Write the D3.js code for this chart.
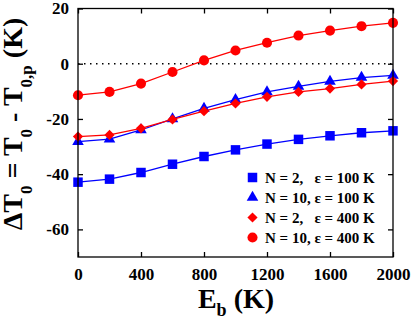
<!DOCTYPE html>
<html><head><meta charset="utf-8">
<script src="https://cdn.jsdelivr.net/npm/d3@7"></script>
</head><body style="margin:0;background:#fff"><svg id="c" width="415" height="322"></svg>
<script>
const eb = [0,200,400,600,800,1000,1200,1400,1600,1800,2000];
const sqN2e100 = [-42.9,-41.8,-39.4,-36.4,-33.6,-31.2,-29.1,-27.4,-26.1,-25.0,-24.3];
const triN10e100 = [-28.2,-27.3,-24.0,-20.0,-16.2,-13.0,-10.2,-8.2,-6.4,-5.0,-4.2];
const diaN2e400 = [-26.4,-25.8,-23.4,-20.2,-17.2,-14.4,-12.0,-10.2,-9.0,-7.5,-6.3];
const cirN10e400 = [-11.4,-10.2,-7.2,-3.0,1.2,4.8,7.6,10.2,12.0,13.6,14.8];
const xTicks = [0,400,800,1200,1600,2000];
const yTicks = [-60,-40,-20,0,20];
const legendLabels = ["N = 2,\u00a0\u00a0\u00a0\u03b5 = 100 K","N = 10, \u03b5 = 100 K","N = 2,\u00a0\u00a0\u00a0\u03b5 = 400 K","N = 10, \u03b5 = 400 K"];

const series = [
  {vals: sqN2e100, color:"#0000ff", sym:d3.symbolSquare, size:90, rot:0},
  {vals: triN10e100, color:"#0000ff", sym:d3.symbolTriangle, size:58, rot:0},
  {vals: diaN2e400, color:"#ff0000", sym:d3.symbolSquare, size:52, rot:45},
  {vals: cirN10e400, color:"#ff0000", sym:d3.symbolCircle, size:80, rot:0}
];

const FONT="Liberation Serif";
const L=78,R=393,T=8.5,B=257;
const svg=d3.select("#c");
const x=d3.scaleLinear().domain([0,2000]).range([L,R]);
const y=d3.scaleLinear().domain([-70,20]).range([B,T]);

svg.append("line").attr("x1",L).attr("x2",R).attr("y1",y(0)).attr("y2",y(0))
  .attr("stroke","#000").attr("stroke-width",1.5).attr("stroke-dasharray","1.5,4.5");

const line=d3.line().x((d,i)=>x(eb[i])).y(d=>y(d));
series.forEach(s=>{
  svg.append("path").attr("d",line(s.vals)).attr("fill","none").attr("stroke",s.color).attr("stroke-width",1.3);
  svg.selectAll(null).data(s.vals).enter().append("path")
    .attr("d",d3.symbol().type(s.sym).size(s.size))
    .attr("transform",(d,i)=>`translate(${x(eb[i])},${y(d)}) rotate(${s.rot})`)
    .attr("fill",s.color);
});

svg.append("rect").attr("x",L).attr("y",T).attr("width",R-L).attr("height",B-T)
  .attr("fill","none").attr("stroke","#000").attr("stroke-width",1.3);

const fmt=d=>String(d);
const gx=svg.append("g").attr("transform",`translate(0,${B})`)
  .call(d3.axisBottom(x).tickValues(xTicks).tickSize(-5).tickPadding(11).tickFormat(fmt));
const gxt=svg.append("g").attr("transform",`translate(0,${T})`)
  .call(d3.axisTop(x).tickValues(xTicks).tickSize(-5).tickFormat(""));
const gy=svg.append("g").attr("transform",`translate(${L},0)`)
  .call(d3.axisLeft(y).tickValues(yTicks).tickSize(-5).tickPadding(9).tickFormat(fmt));
const gyr=svg.append("g").attr("transform",`translate(${R},0)`)
  .call(d3.axisRight(y).tickValues(yTicks).tickSize(-5).tickFormat(""));
[gx,gxt,gy,gyr].forEach(g=>{g.attr("font-family",FONT).attr("font-size",17).attr("font-weight","bold");g.select(".domain").remove();g.selectAll(".tick line").attr("stroke","#000").attr("stroke-width",1.3);});
[gx,gy].forEach(g=>g.selectAll(".tick text").attr("fill","#000"));

const xl=svg.append("text").attr("x",236).attr("y",308).attr("text-anchor","middle").attr("font-size",28);
xl.append("tspan").text("E");
xl.append("tspan").attr("font-size",18).attr("dy",8).text("b");
xl.append("tspan").attr("dy",-8).text(" (K)");

const yl=svg.append("text").attr("transform","translate(22,124) rotate(-90)").attr("text-anchor","middle").attr("font-size",28);
yl.append("tspan").text("\u0394T");
yl.append("tspan").attr("font-size",17).attr("dy",10).text("0");
yl.append("tspan").attr("dy",-10).text(" = T");
yl.append("tspan").attr("font-size",17).attr("dy",10).text("0");
yl.append("tspan").attr("dy",-10).text(" - T");
yl.append("tspan").attr("font-size",17).attr("dy",10).text("0,p");
yl.append("tspan").attr("dy",-10).text(" (K)");

series.forEach((s,i)=>{
  const ly=177.5+i*20;
  svg.append("path").attr("d",d3.symbol().type(s.sym).size(s.size)).attr("transform",`translate(252.5,${ly}) rotate(${s.rot})`).attr("fill",s.color);
  svg.append("text").attr("x",265).attr("y",ly+5).attr("font-size",15).attr("fill","#000").text(legendLabels[i]);
});

svg.selectAll("text").attr("font-family",FONT).attr("font-weight","bold");
</script></body></html>
